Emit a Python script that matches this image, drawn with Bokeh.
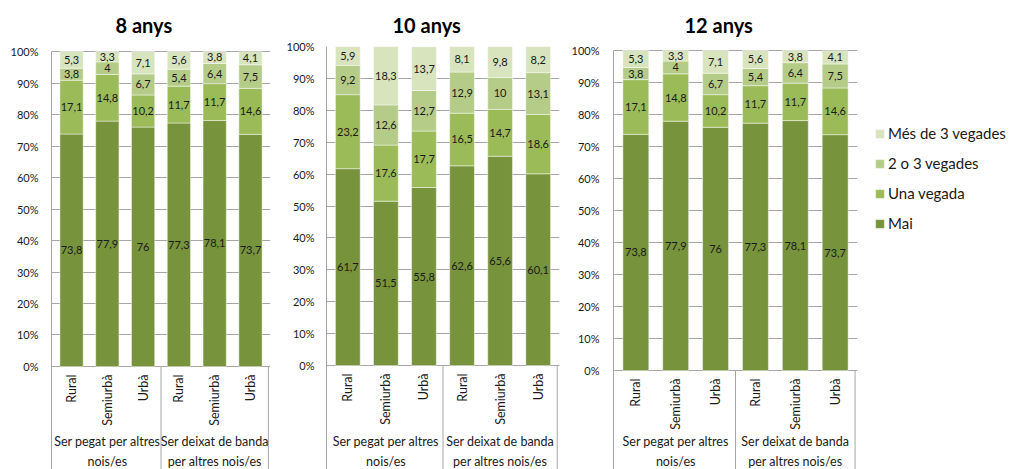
import numpy as np
from bokeh.plotting import figure
from bokeh.models import (FactorRange, Range1d, FixedTicker, Legend, LegendItem,
                          ColumnDataSource)
from bokeh.layouts import row
from bokeh.embed import file_html
from bokeh.resources import INLINE
from bokeh.core.properties import value

# ---------------- data ----------------
groups = ["Ser pegat per altres\nnois/es", "Ser deixat de banda\nper altres nois/es"]
areas = ["Rural", "Semiurbà", "Urbà"]
series = ["Mai", "Una vegada", "2 o 3 vegades", "Més de 3 vegades"]
titles = ["8 anys", "10 anys", "12 anys"]

mai_8 = [73.8, 77.9, 76, 77.3, 78.1, 73.7]
una_8 = [17.1, 14.8, 10.2, 11.7, 11.7, 14.6]
dos_8 = [3.8, 4, 6.7, 5.4, 6.4, 7.5]
mes_8 = [5.3, 3.3, 7.1, 5.6, 3.8, 4.1]

mai_10 = [61.7, 51.5, 55.8, 62.6, 65.6, 60.1]
una_10 = [23.2, 17.6, 17.7, 16.5, 14.7, 18.6]
dos_10 = [9.2, 12.6, 12.7, 12.9, 10, 13.1]
mes_10 = [5.9, 18.3, 13.7, 8.1, 9.8, 8.2]

mai_12 = [73.8, 77.9, 76, 77.3, 78.1, 73.7]
una_12 = [17.1, 14.8, 10.2, 11.7, 11.7, 14.6]
dos_12 = [3.8, 4, 6.7, 5.4, 6.4, 7.5]
mes_12 = [5.3, 3.3, 7.1, 5.6, 3.8, 4.1]

y_ticks = list(range(0, 101, 10))

# ---------------- style ----------------
colors = ["#77933C", "#9BBB59", "#B5CC88", "#D7E4BD"]
FONT = "Lato"
FONT_V = value(FONT)
GRID = "#A6A6A6"
TXT = "#1a1a1a"
H = 469


def fmt(v):
    return f"{v:g}".replace(".", ",")


def factor_list():
    return [(g, a) for g in groups for a in areas]


def make_chart(title, vals, width, b_left, b_right, y_range, standoff,
               title_offset, sub_y, group_y):
    factors = factor_list()
    x_range = FactorRange(*factors, group_padding=0, factor_padding=0,
                          range_padding=0.02)
    y_start, y_end = y_range
    p = figure(x_range=x_range, y_range=Range1d(y_start, y_end), width=width,
               height=H, output_backend="svg", toolbar_location=None,
               x_axis_location=None, min_border_left=b_left,
               min_border_right=b_right, min_border_top=46,
               min_border_bottom=0, outline_line_color=None, title=title)
    p.title.text_font = FONT
    p.title.text_font_size = "20px"
    p.title.text_font_style = "bold"
    p.title.text_color = "#000000"
    p.title.align = "left"
    p.title.offset = title_offset
    p.title.standoff = 19

    data = {"x": factors}
    for s, v in zip(series, vals):
        data[s] = v
    src = ColumnDataSource(data)
    p.vbar_stack(series, x="x", width=0.65, source=src,
                 fill_color=colors, line_color="#FFFFFF", line_alpha=0.45,
                 line_width=1)

    # value labels in the middle of each segment
    lx, ly, lt = [], [], []
    bottom = np.zeros(len(factors))
    for v in vals:
        v = np.array(v, dtype=float)
        for i, f in enumerate(factors):
            lx.append(f)
            ly.append(bottom[i] + v[i] / 2)
            lt.append(fmt(v[i]))
        bottom += v
    p.text(x=lx, y=ly, text=lt, text_align="center", text_baseline="middle",
           text_font_size="11px", text_color=TXT, text_font=FONT_V)

    # y axis (0 % .. 100 %)
    p.yaxis.ticker = FixedTicker(ticks=y_ticks)
    p.yaxis.bounds = (y_start, 100)
    p.yaxis.major_label_overrides = {t: f"{t}%" for t in y_ticks}
    p.yaxis.axis_line_color = GRID
    p.yaxis.major_tick_line_color = None
    p.yaxis.minor_tick_line_color = None
    p.yaxis.major_tick_out = 0
    p.yaxis.minor_tick_out = 0
    p.yaxis.major_label_standoff = standoff
    p.yaxis.major_label_text_font = FONT
    p.yaxis.major_label_text_font_size = "11px"
    p.yaxis.major_label_text_color = TXT
    p.ygrid.ticker = FixedTicker(ticks=y_ticks)
    p.ygrid.grid_line_color = GRID
    p.xgrid.grid_line_color = None

    # category label boxes (separators between / after the groups)
    bounds = np.cumsum([len(areas)] * len(groups))
    p.segment(x0=bounds, y0=0, x1=bounds, y1=y_start, line_color=GRID,
              line_width=1)

    # category labels
    p.text(x=factors, y=[sub_y] * len(factors), text=[a for g, a in factors],
           angle=np.pi / 2, text_align="right", text_baseline="middle",
           text_font_size="12.5px", text_color=TXT, text_font=FONT_V)
    p.text(x=[(g, areas[len(areas) // 2]) for g in groups],
           y=[group_y] * len(groups), text=groups, text_align="center",
           text_baseline="middle", text_font_size="12.5px",
           text_line_height=1.3, text_color=TXT, text_font=FONT_V)
    return p, src


p1, _ = make_chart(titles[0], [mai_8, una_8, dos_8, mes_8], 283, 51, 13,
                   (-32.70, 101.59), 13, 64, -2.54, -26.98)
p2, _ = make_chart(titles[1], [mai_10, una_10, dos_10, mes_10], 285, 42, 9,
                   (-32.60, 100.0), 12, 66, -2.51, -26.96)
p3, src3 = make_chart(titles[2], [mai_12, una_12, dos_12, mes_12], 294, 43, 5,
                      (-30.94, 101.25), 14, 71, -2.5, -25.3)

# legend panel: keys drawn from hidden copies of the 12-anys series
pl = figure(width=150, height=H, output_backend="svg", toolbar_location=None,
            x_axis_location=None, y_axis_location=None, outline_line_color=None,
            min_border=0, x_range=FactorRange(*factor_list()),
            y_range=Range1d(0, 1))
pl.xgrid.grid_line_color = None
pl.ygrid.grid_line_color = None
rs = pl.vbar_stack(series, x="x", width=0.65, source=src3, fill_color=colors,
                   line_color="#FFFFFF", line_alpha=0.45, visible=False)
items = [LegendItem(label=s, renderers=[r])
         for s, r in reversed(list(zip(series, rs)))]
lg = Legend(items=items, location=(12, 237), glyph_width=11,
            glyph_height=11, label_height=11, spacing=12, padding=5,
            label_standoff=3, label_text_font=FONT,
            label_text_font_size="15px", label_text_color=TXT,
            border_line_color=None, background_fill_alpha=0)
pl.add_layout(lg)

layout = row(p1, p2, p3, pl, spacing=0)
open("out.html", "w").write(file_html(layout, INLINE))
